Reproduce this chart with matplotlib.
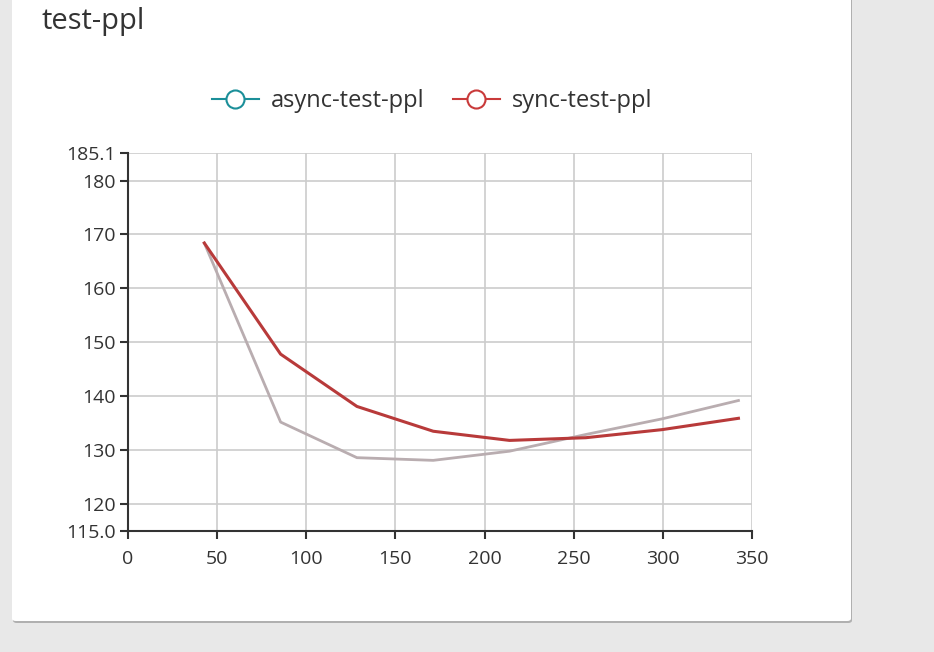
import matplotlib
matplotlib.use("Agg")
import matplotlib.pyplot as plt
from matplotlib.patches import FancyBboxPatch
from matplotlib.lines import Line2D

steps = [42.8, 85.6, 128.4, 171.2, 214.0, 256.8, 299.6, 342.4]
async_ppl = [168.4, 135.2, 128.6, 128.1, 129.8, 132.9, 135.8, 139.2]
sync_ppl = [168.4, 147.8, 138.1, 133.5, 131.8, 132.3, 133.8, 135.9]
x_ticks = [0, 50, 100, 150, 200, 250, 300, 350]
y_ticks = [115.0, 120, 130, 140, 150, 160, 170, 180, 185.1]
y_labels = ["115.0", "120", "130", "140", "150", "160", "170", "180", "185.1"]

def main():
    plt.rcParams['font.family'] = ['Open Sans', 'DejaVu Sans']
    fig = plt.figure(figsize=(9.34, 6.52), dpi=100)
    fig.patch.set_facecolor('#e8e8e8')

    # card with shadow
    W, H = 934, 652
    shadow = FancyBboxPatch((13 / W, 29 / H), 839 / W, 640 / H,
                            boxstyle="round,pad=0,rounding_size=0.004",
                            transform=fig.transFigure, fc='#b0b0b0', ec='none', zorder=-2)
    card = FancyBboxPatch((12 / W, 31 / H), 839 / W, 640 / H,
                          boxstyle="round,pad=0,rounding_size=0.004",
                          transform=fig.transFigure, fc='white', ec='none', zorder=-1)
    fig.patches.extend([shadow, card])

    fig.text(42 / W, 1 - 22 / H, "test-ppl", fontsize=21, color='#333333',
             va='center', ha='left')

    ax = fig.add_axes([128 / W, 1 - 531 / H, 624 / W, 378 / H])
    ax.set_zorder(2)
    ax.set_facecolor('none')
    ax.plot(steps, async_ppl, color='#b9adb0', lw=2)
    ax.plot(steps, sync_ppl, color='#b83a3a', lw=2.2)

    ax.set_xlim(0, 350)
    ax.set_ylim(115.0, 185.1)
    ax.set_xticks(x_ticks)
    ax.set_yticks(y_ticks)
    ax.set_yticklabels(y_labels)
    ax.grid(True, color='#cccccc', lw=1.2)
    ax.set_axisbelow(True)
    for s in ['top', 'right']:
        ax.spines[s].set_visible(False)
    for s in ['left', 'bottom']:
        ax.spines[s].set_color('#333333')
        ax.spines[s].set_linewidth(1.5)
    ax.tick_params(axis='both', direction='out', length=6, width=1.5,
                   color='#333333', labelsize=14, labelcolor='#333333')
    ax.tick_params(axis='x', pad=8)
    ax.tick_params(axis='y', pad=3)

    handles = [
        Line2D([], [], color='#1b8f99', lw=1.5, marker='o', markersize=13,
               markerfacecolor='white', markeredgewidth=1.5),
        Line2D([], [], color='#c93a3a', lw=1.5, marker='o', markersize=13,
               markerfacecolor='white', markeredgewidth=1.5),
    ]
    fig.legend(handles, ['async-test-ppl', 'sync-test-ppl'], loc='center',
               bbox_to_anchor=(432 / W, 1 - 101 / H), ncol=2, frameon=False,
               fontsize=17, handlelength=2.0, handletextpad=0.5, columnspacing=1.2,
               labelcolor='#333333')

    fig.savefig('out.png', dpi=100, facecolor=fig.get_facecolor())

if __name__ == '__main__':
    main()
